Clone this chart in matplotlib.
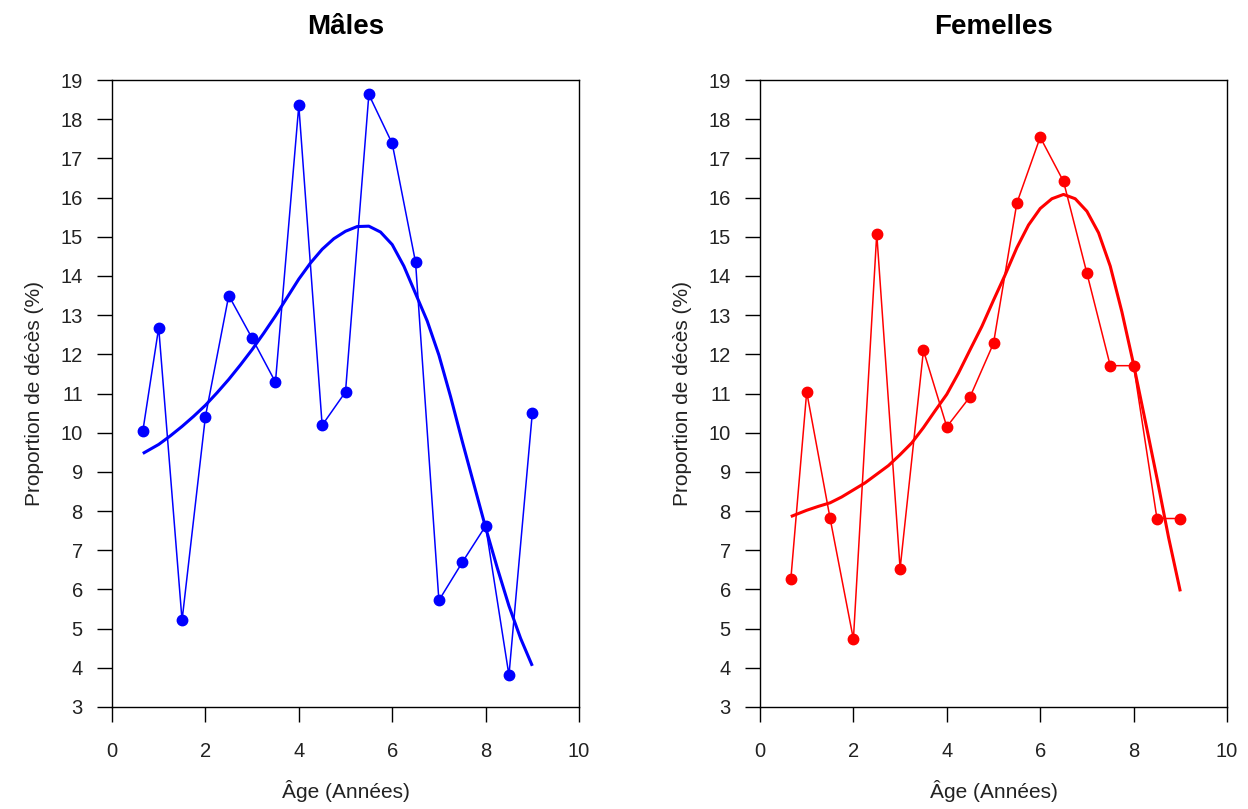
import matplotlib
matplotlib.use("Agg")
import matplotlib.pyplot as plt

plt.rcParams['font.family'] = ['Liberation Sans', 'DejaVu Sans']

# ---- data ----
ages = [0.66, 1.0, 1.5, 2.0, 2.5, 3.0, 3.5, 4.0, 4.5, 5.0, 5.5, 6.0, 6.5, 7.0, 7.5, 8.0, 8.5, 9.0]

males_obs = [10.04, 12.68, 5.21, 10.41, 13.50, 12.41, 11.29, 18.35, 10.19, 11.04,
             18.63, 17.38, 14.35, 5.72, 6.69, 7.62, 3.81, 10.50]
females_obs = [6.26, 11.04, 7.82, 4.73, 15.08, 6.53, 12.10, 10.15, 10.92, 12.28,
               15.86, 17.54, 16.41, 14.07, 11.71, 11.71, 7.81, 7.81]

# fitted trend curves
fit_ages = [0.66, 1.0, 1.25, 1.5, 1.75, 2.0, 2.25, 2.5, 2.75, 3.0, 3.25, 3.5, 3.75,
            4.0, 4.25, 4.5, 4.75, 5.0, 5.25, 5.5, 5.75, 6.0, 6.25, 6.5, 6.75,
            7.0, 7.25, 7.5, 7.75, 8.0, 8.25, 8.5, 8.75, 9.0]
males_fit = [9.47, 9.70, 9.92, 10.16, 10.42, 10.70, 11.02, 11.36, 11.73, 12.12,
             12.54, 12.98, 13.45, 13.92, 14.33, 14.68, 14.95, 15.14, 15.26, 15.27,
             15.12, 14.80, 14.25, 13.55, 12.85, 11.98, 10.92, 9.78, 8.68, 7.58,
             6.55, 5.58, 4.75, 4.05]
females_fit = [7.86, 8.02, 8.12, 8.21, 8.36, 8.54, 8.72, 8.94, 9.16, 9.44,
               9.74, 10.13, 10.56, 10.98, 11.52, 12.12, 12.71, 13.38, 14.03, 14.72,
               15.30, 15.72, 15.97, 16.08, 15.97, 15.65, 15.10, 14.25, 13.08, 11.74,
               10.30, 8.84, 7.32, 5.95]

titles = ["Mâles", "Femelles"]
colors = ["#0000FF", "#FF0000"]
xlabel = "Âge (Années)"
ylabel = "Proportion de décès (%)"
xticks = [0, 2, 4, 6, 8, 10]
yticks = list(range(3, 20))

W, H = 1248, 809
fig = plt.figure(figsize=(W / 100, H / 100), dpi=100)

panels = [
    (titles[0], males_obs, males_fit, colors[0], 112),
    (titles[1], females_obs, females_fit, colors[1], 760),
]

for title, obs, fit, col, left_px in panels:
    ax = fig.add_axes([left_px / W, 1 - 707 / H, 467 / W, (707 - 80) / H])
    ax.plot(ages, obs, color=col, lw=1.1, marker='o', ms=7.5, zorder=3)
    ax.plot(fit_ages, fit, color=col, lw=2.2, zorder=4,
            solid_joinstyle='round', solid_capstyle='butt')
    ax.set_xlim(0, 10)
    ax.set_ylim(3, 19)
    ax.set_xticks(xticks)
    ax.set_yticks(yticks)
    ax.tick_params(direction='out', length=11, width=1.0, labelsize=14.5,
                   color='black', labelcolor='#222222')
    ax.tick_params(axis='y', pad=10)
    ax.tick_params(axis='x', pad=14)
    for s in ax.spines.values():
        s.set_linewidth(1.0)
        s.set_color('black')
    ax.set_title(title, fontsize=20, fontweight='bold', pad=33)
    ax.set_xlabel(xlabel, fontsize=15, labelpad=14, color='#222222')
    ax.set_ylabel(ylabel, fontsize=15, labelpad=12, color='#222222')

fig.savefig("out.png", dpi=100)
